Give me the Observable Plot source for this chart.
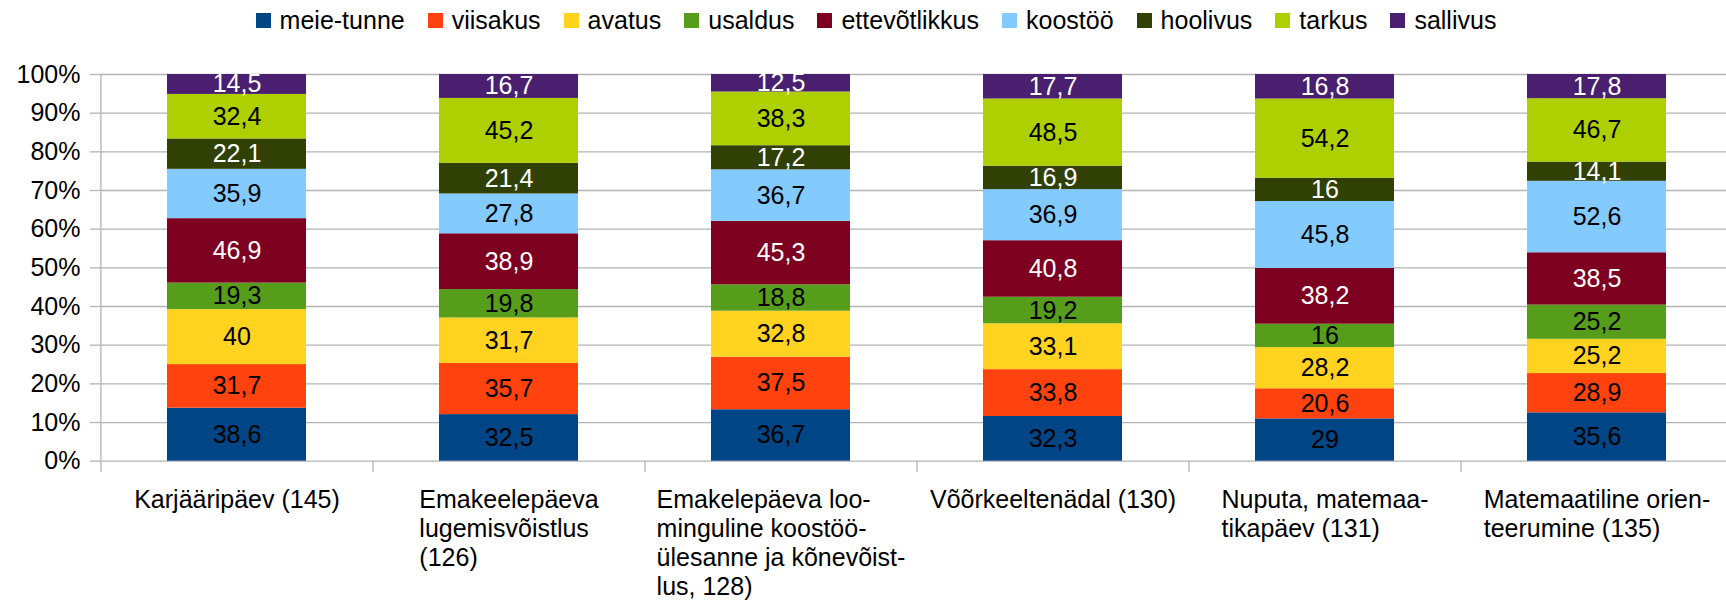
<!DOCTYPE html>
<html><head><meta charset="utf-8">
<script src="https://cdn.jsdelivr.net/npm/d3@7"></script>
<script src="https://cdn.jsdelivr.net/npm/@observablehq/plot@0.6"></script>
<style>
body{margin:0;background:#fff;font-family:"Liberation Sans",Arial,sans-serif;color:#000;}
#legend{height:40px;width:1726px;box-sizing:border-box;padding-left:26px;display:flex;justify-content:center;align-items:center;font-size:25px;}
.item{display:flex;align-items:center;margin-right:23px;white-space:nowrap;}
.item:last-child{margin-right:0;}
.sw{width:15px;height:15px;margin-right:9px;}
</style></head><body>
<div id="legend"></div>
<div id="chart"></div>
<script>
const categories = [
  "Karjääripäev (145)",
  "Emakeelepäeva\nlugemisvõistlus\n(126)",
  "Emakelepäeva loo-\nminguline koostöö-\nülesanne ja kõnevõist-\nlus, 128)",
  "Võõrkeeltenädal (130)",
  "Nuputa, matemaa-\ntikapäev (131)",
  "Matemaatiline orien-\nteerumine (135)"
];
const seriesNames = ["meie-tunne","viisakus","avatus","usaldus","ettevõtlikkus","koostöö","hoolivus","tarkus","sallivus"];
const seriesColors = ["#004586","#ff420e","#ffd320","#579d1c","#7e0021","#83caff","#314004","#aecf00","#4b1f6f"];
const labelColors = ["#000","#000","#000","#000","#fff","#000","#fff","#000","#fff"];

const meieTunne     = [38.6, 32.5, 36.7, 32.3, 29,   35.6];
const viisakus      = [31.7, 35.7, 37.5, 33.8, 20.6, 28.9];
const avatus        = [40,   31.7, 32.8, 33.1, 28.2, 25.2];
const usaldus       = [19.3, 19.8, 18.8, 19.2, 16,   25.2];
const ettevotlikkus = [46.9, 38.9, 45.3, 40.8, 38.2, 38.5];
const koostoo       = [35.9, 27.8, 36.7, 36.9, 45.8, 52.6];
const hoolivus      = [22.1, 21.4, 17.2, 16.9, 16,   14.1];
const tarkus        = [32.4, 45.2, 38.3, 48.5, 54.2, 46.7];
const sallivus      = [14.5, 16.7, 12.5, 17.7, 16.8, 17.8];
const seriesValues = [meieTunne, viisakus, avatus, usaldus, ettevotlikkus, koostoo, hoolivus, tarkus, sallivus];
const yTicks = [0, 0.1, 0.2, 0.3, 0.4, 0.5, 0.6, 0.7, 0.8, 0.9, 1];

const data = [];
seriesNames.forEach((s, si) => {
  categories.forEach((c, ci) => {
    data.push({cat: c, series: s, value: seriesValues[si][ci], color: seriesColors[si], label: labelColors[si]});
  });
});

// legend
const legend = document.getElementById("legend");
seriesNames.forEach((s, i) => {
  const it = document.createElement("div"); it.className = "item";
  const sw = document.createElement("div"); sw.className = "sw"; sw.style.background = seriesColors[i];
  const t = document.createElement("span"); t.textContent = s;
  it.appendChild(sw); it.appendChild(t); legend.appendChild(it);
});

const W = 1726, H = 560, mL = 100, mR = -7, mT = 34, mB = 139.3;
const step = (W - mL - mR) / categories.length;
const grid = "#b3b3b3";
const FONT = "Liberation Sans, Arial, sans-serif";

const ctx = document.createElement("canvas").getContext("2d");
ctx.font = '25px "Liberation Sans"';
const blockW = c => Math.max(...c.split("\n").map(l => ctx.measureText(l).width));

const fmt = v => String(v).replace(".", ",");

const labelMarks = categories.map(c => Plot.text([c], {
  x: d => d, text: d => d, frameAnchor: "bottom", textAnchor: "start", lineAnchor: "top",
  lineHeight: 1.16, dy: 26, dx: -blockW(c) / 2, fontSize: 25, fill: "#000"
}));

const chart = Plot.plot({
  width: W, height: H,
  marginLeft: mL, marginRight: mR, marginTop: mT, marginBottom: mB,
  style: {fontFamily: FONT, fontSize: "25px", background: "#fff", color: "#000", overflow: "visible"},
  x: {type: "band", domain: categories, paddingInner: 0.489, paddingOuter: 0.2445, axis: null, label: null},
  y: {domain: [0, 1], axis: null, label: null},
  marks: [
    Plot.gridY(yTicks, {stroke: grid, strokeOpacity: 1, strokeWidth: 1.3}),
    Plot.axisY(yTicks, {tickSize: 10, tickPadding: 10, stroke: grid, strokeWidth: 1.3, strokeOpacity: 1, label: null,
      tickFormat: d => `${Math.round(d * 100)}%`, fontSize: 25, fill: "#000"}),
    Plot.ruleX([categories[0]], {x: d => d, dx: -step / 2, y1: 0, y2: 1, stroke: grid, strokeWidth: 1.3}),
    Plot.axisX({tickSize: 11, tickFormat: () => "", label: null, dx: -step / 2, stroke: grid, strokeWidth: 1.3, strokeOpacity: 1}),
    Plot.barY(data, Plot.stackY({x: "cat", y: "value", z: "series", fill: "color", offset: "normalize", order: null})),
    Plot.text(data, Plot.stackY({x: "cat", y: "value", z: "series", offset: "normalize", order: null,
      text: d => fmt(d.value), fill: "label", fontSize: 25})),
    ...labelMarks
  ]
});
document.getElementById("chart").appendChild(chart);
</script>
</body></html>
